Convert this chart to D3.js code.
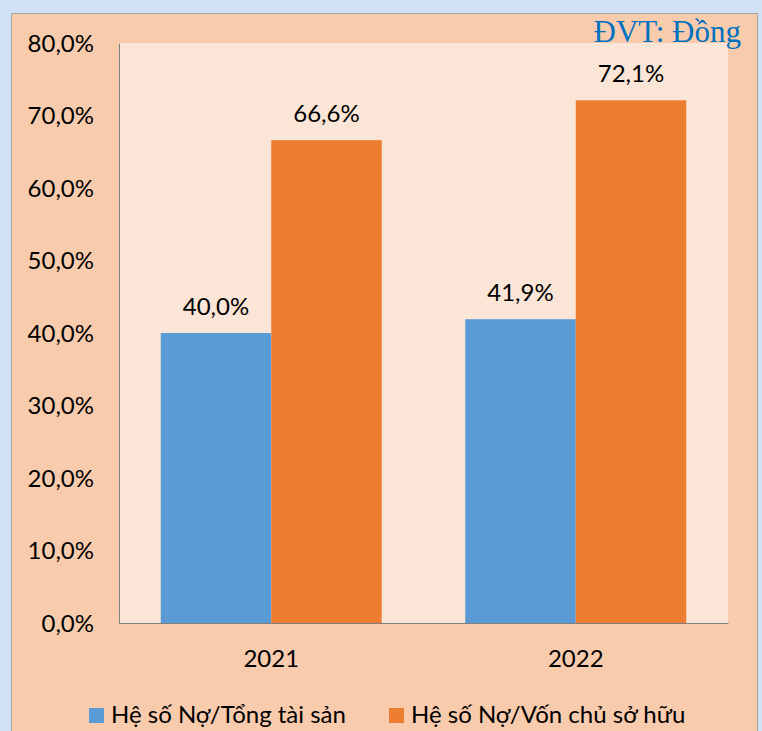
<!DOCTYPE html>
<html>
<head>
<meta charset="utf-8">
<script src="https://cdn.jsdelivr.net/npm/d3@7"></script>
<style>
  html, body { margin: 0; padding: 0; background: #d1e1f3; }
  svg { display: block; }
</style>
</head>
<body>
<div id="chart"></div>
<script>
const years = ["2021", "2022"];
const seriesNames = ["Hệ số Nợ/Tổng tài sản", "Hệ số Nợ/Vốn chủ sở hữu"];
const debtToAssets = [40.0, 41.9];
const debtToEquity = [66.6, 72.1];
const yTicks = [0, 10, 20, 30, 40, 50, 60, 70, 80];
const unitLabel = "ĐVT: Đồng";

const colors = ["#5b9bd5", "#ed7d31"];
const W = 762, H = 731;
const font = "Lato, 'Open Sans', sans-serif";

const svg = d3.select("#chart").append("svg")
  .attr("width", W)
  .attr("height", H);

// outer frame
svg.append("rect")
  .attr("x", 11.5).attr("y", 13.5)
  .attr("width", 746).attr("height", 730)
  .attr("fill", "#f8cbad")
  .attr("stroke", "#a6a6a6")
  .attr("stroke-width", 1);

const plot = {left: 119, right: 728, top: 43, bottom: 623};

// plot area background
svg.append("rect")
  .attr("x", plot.left).attr("y", plot.top)
  .attr("width", plot.right - plot.left)
  .attr("height", plot.bottom - plot.top)
  .attr("fill", "#fbe5d6");

const x0 = d3.scaleBand()
  .domain(years)
  .range([plot.left, plot.right]);

const x1 = d3.scaleBand()
  .domain(seriesNames)
  .range([0, 221]);

const y = d3.scaleLinear()
  .domain([0, 80])
  .range([plot.bottom, plot.top]);

const rows = years.map((yr, i) => ({
  year: yr,
  values: [debtToAssets[i], debtToEquity[i]]
}));

const groups = svg.append("g").selectAll("g")
  .data(rows)
  .join("g")
    .attr("transform", d => `translate(${x0(d.year) + (x0.bandwidth() - 221) / 2},0)`);

groups.selectAll("rect")
  .data(d => d.values.map((v, j) => ({name: seriesNames[j], value: v, j})))
  .join("rect")
    .attr("x", d => x1(d.name))
    .attr("y", d => y(d.value))
    .attr("width", x1.bandwidth())
    .attr("height", d => y(0) - y(d.value))
    .attr("fill", d => colors[d.j]);

groups.selectAll("text")
  .data(d => d.values.map((v, j) => ({name: seriesNames[j], value: v})))
  .join("text")
    .attr("x", d => x1(d.name) + x1.bandwidth() / 2)
    .attr("y", d => y(d.value) - 18)
    .attr("text-anchor", "middle")
    .attr("font-family", font)
    .attr("font-size", 24)
    .attr("fill", "#000")
    .text(d => d.value.toFixed(1).replace(".", ",") + "%");

// y axis
const yAxis = d3.axisLeft(y)
  .tickValues(yTicks)
  .tickSize(0)
  .tickPadding(25)
  .tickFormat(d => d.toFixed(1).replace(".", ",") + "%");

const gy = svg.append("g")
  .attr("transform", `translate(${plot.left},0)`)
  .call(yAxis);
gy.select(".domain").attr("stroke", "#808080");
gy.selectAll("text")
  .attr("font-family", font)
  .attr("font-size", 24)
  .attr("fill", "#000")
  .attr("dy", "0.35em");

// x axis
const xAxis = d3.axisBottom(x0)
  .tickSize(0)
  .tickPadding(27);

const gx = svg.append("g")
  .attr("transform", `translate(0,${plot.bottom})`)
  .call(xAxis);
gx.select(".domain").attr("stroke", "#808080");
gx.selectAll("text")
  .attr("font-family", font)
  .attr("font-size", 24)
  .attr("fill", "#000");

// unit label
svg.append("text")
  .attr("x", 741)
  .attr("y", 42)
  .attr("text-anchor", "end")
  .attr("font-family", "'Liberation Serif', serif")
  .attr("font-size", 31)
  .attr("fill", "#0070c0")
  .text(unitLabel);

// legend
const legendX = [89, 389];
const legend = svg.append("g").selectAll("g")
  .data(seriesNames)
  .join("g")
    .attr("transform", (d, i) => `translate(${legendX[i]},708)`);

legend.append("rect")
  .attr("width", 15).attr("height", 15)
  .attr("fill", (d, i) => colors[i]);

legend.append("text")
  .attr("x", 22)
  .attr("y", 15)
  .attr("font-family", font)
  .attr("font-size", 24)
  .attr("fill", "#000")
  .text(d => d);
</script>
</body>
</html>
